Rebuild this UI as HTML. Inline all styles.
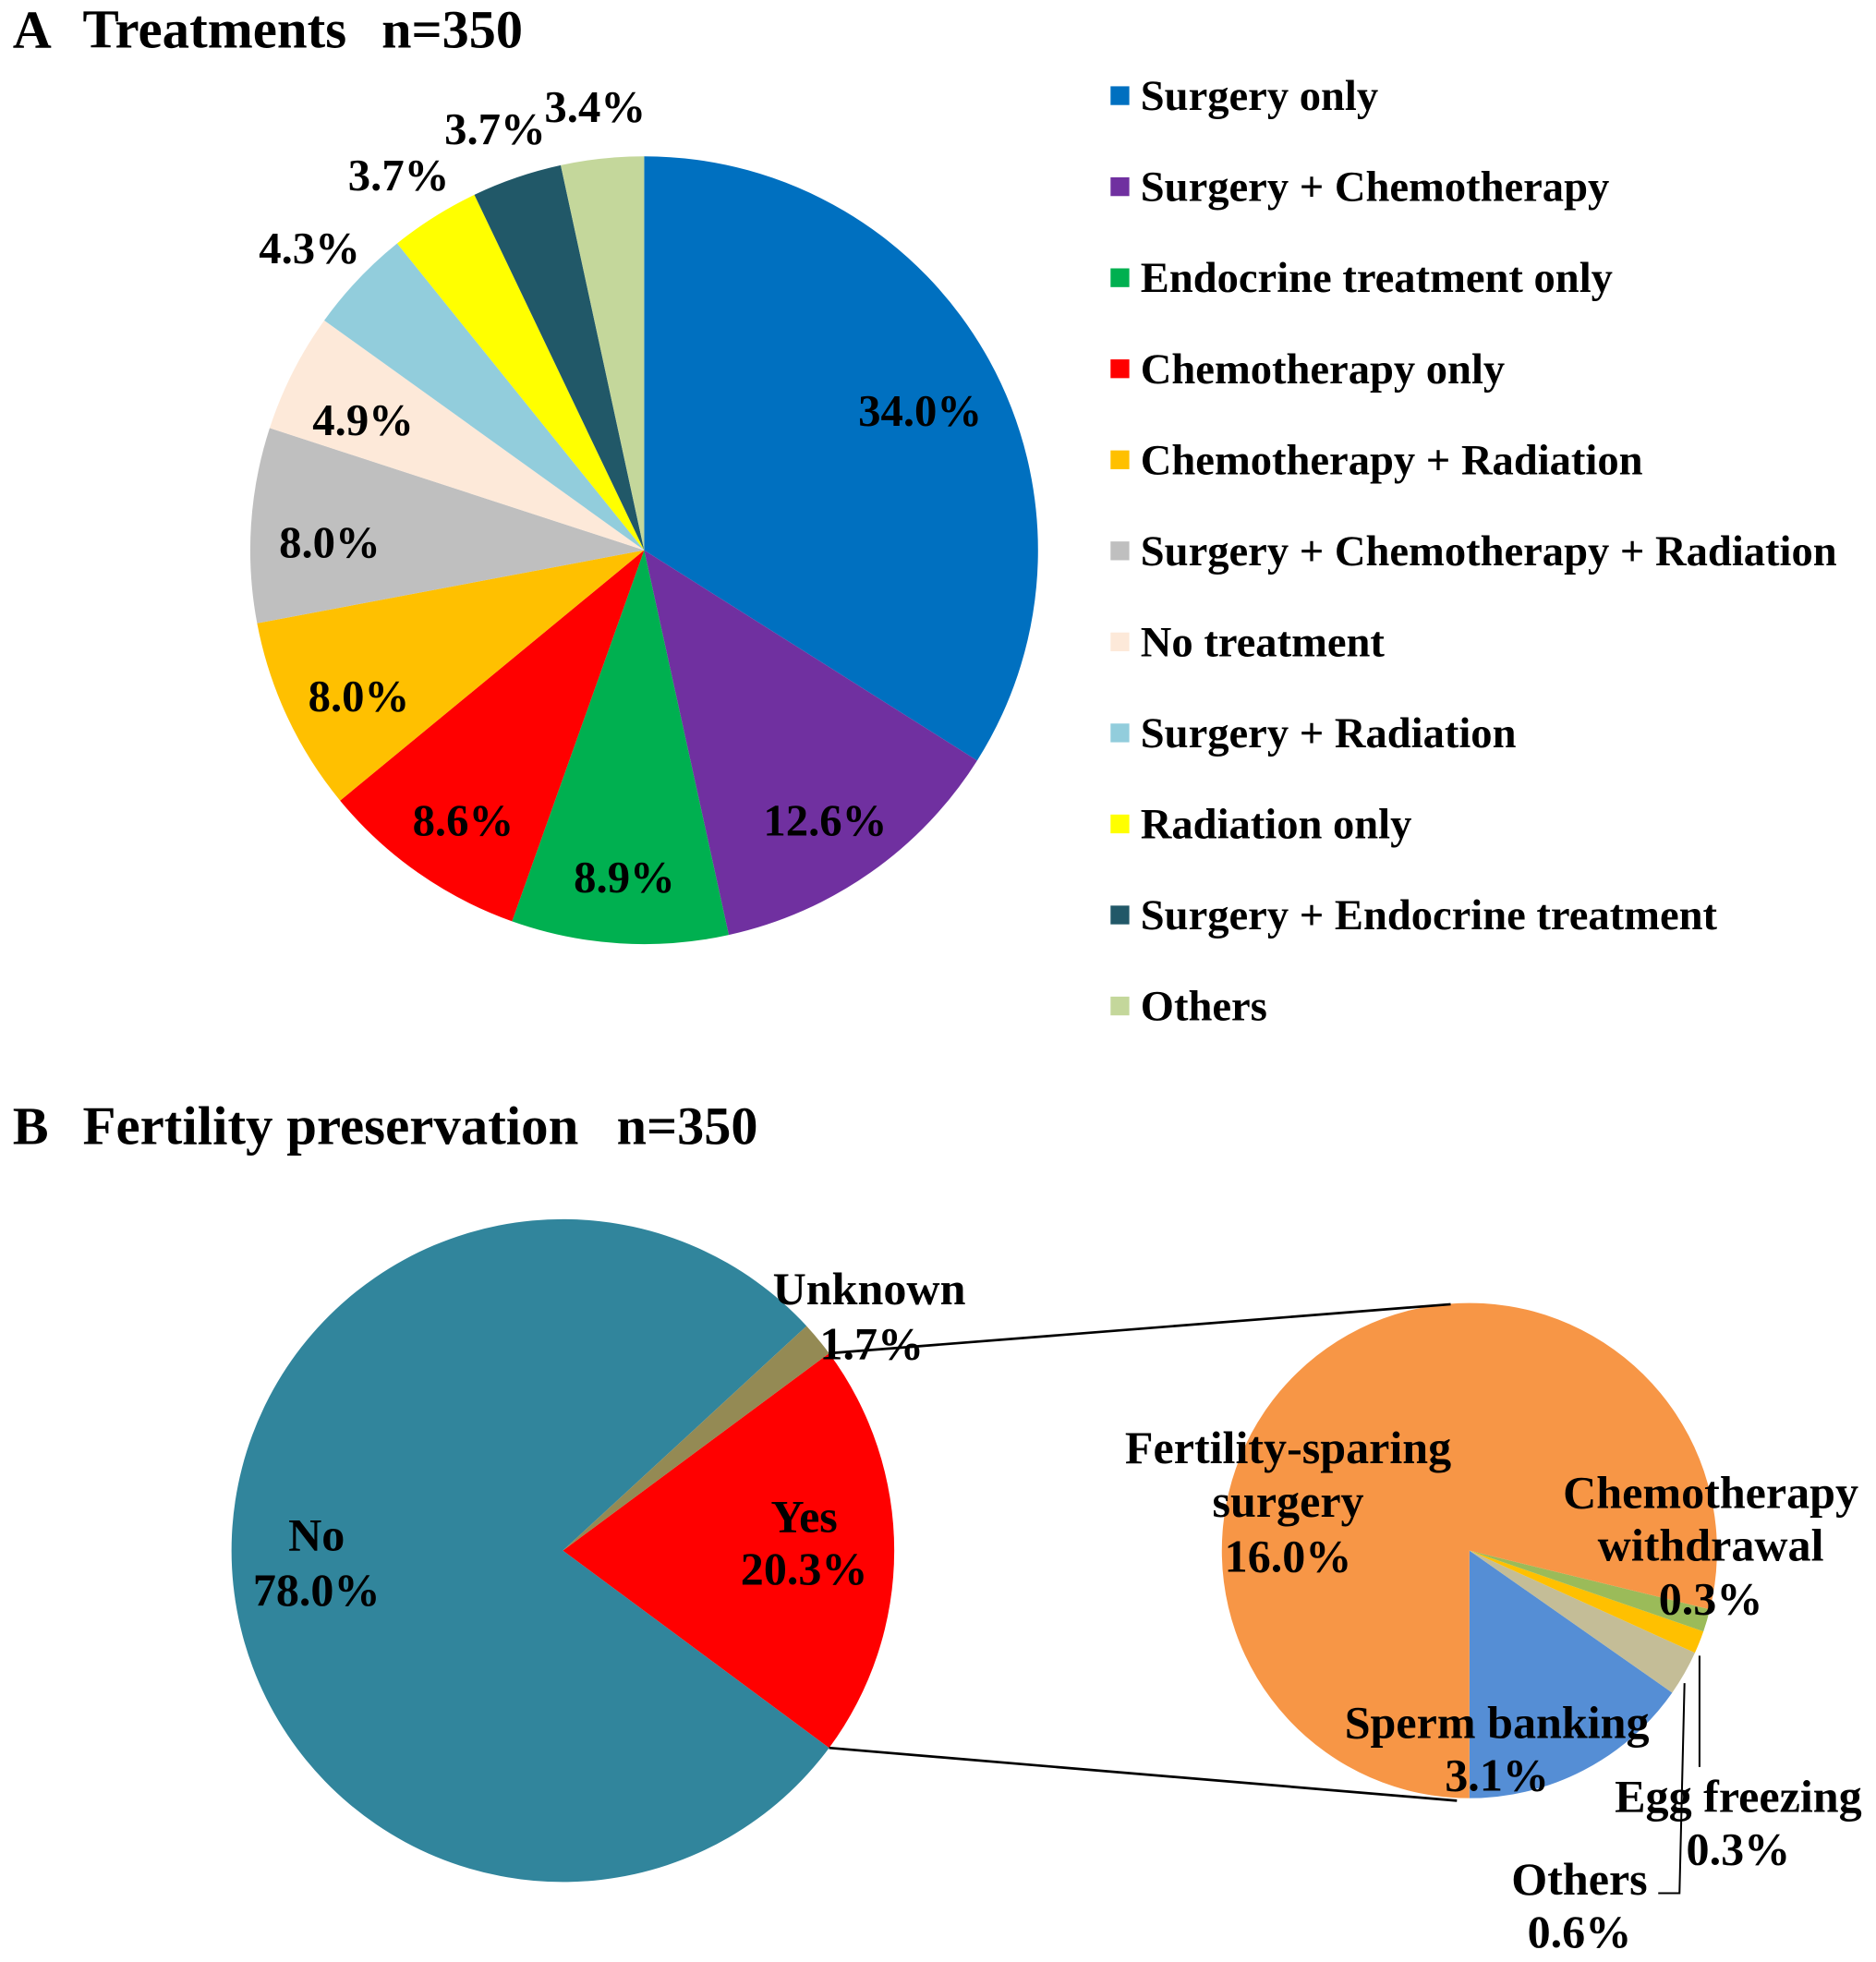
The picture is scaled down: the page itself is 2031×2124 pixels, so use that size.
<!DOCTYPE html>
<html><head><meta charset="utf-8"><style>
html,body{margin:0;padding:0;background:#fff}
svg{display:block}
text{font-family:"Liberation Serif",serif;font-weight:bold;fill:#000}
</style></head><body>
<svg id="fig" width="2031" height="2124" viewBox="0 0 1500 1569" xmlns="http://www.w3.org/2000/svg">
<text x="10" y="38" font-size="43">A</text>
<text x="66" y="38" font-size="43.5">Treatments</text>
<text x="305" y="38" font-size="43">n=350</text>
<text x="10" y="915" font-size="43">B</text>
<text x="66" y="915" font-size="43.5">Fertility preservation</text>
<text x="493" y="915" font-size="43">n=350</text>
<g id="pieA"></g>
<g id="legendA"></g>
<g id="pieB"></g>
<g id="pieB2"></g>
<g id="labelsB"></g>
</svg>
<script>
const treatCategories = ["Surgery only","Surgery + Chemotherapy","Endocrine treatment only","Chemotherapy only","Chemotherapy + Radiation","Surgery + Chemotherapy + Radiation","No treatment","Surgery + Radiation","Radiation only","Surgery + Endocrine treatment","Others"];
const treatValues = [34.0,12.6,8.9,8.6,8.0,8.0,4.9,4.3,3.7,3.7,3.4];
const treatColors = ["#0070C0","#7030A0","#00B050","#FF0000","#FFC000","#BFBFBF","#FDE9D9","#92CDDC","#FFFF00","#215868","#C4D79B"];
const fpCategories = ["Yes","No","Unknown"];
const fpValues = [20.3,78.0,1.7];
const fpColors = ["#FF0000","#31859C","#948A54"];
const yesCategories = ["Sperm banking","Others","Egg freezing","Chemotherapy withdrawal","Fertility-sparing surgery"];
const yesValues = [3.1,0.6,0.3,0.3,16.0];
const yesColors = ["#558ED5","#C4BD97","#FFC000","#9BBB59","#F79646"];

const NS="http://www.w3.org/2000/svg";
function mk(tag,attrs,parent){const e=document.createElementNS(NS,tag);for(const k in attrs)e.setAttribute(k,attrs[k]);parent.appendChild(e);return e;}
function pt(cx,cy,r,a){const t=a*Math.PI/180;return [cx+r*Math.cos(t),cy+r*Math.sin(t)];}
function wedge(cx,cy,r,a0,a1){
  const p0=pt(cx,cy,r,a0),p1=pt(cx,cy,r,a1);const large=(a1-a0)>180?1:0;
  return `M${cx},${cy}L${p0[0]},${p0[1]}A${r},${r} 0 ${large} 1 ${p1[0]},${p1[1]}Z`;
}
function fmt(v){return v.toFixed(1)+"%";}

(function(){
  const g=document.getElementById('pieA');
  const cx=515,cy=440,r=315;
  const total=treatValues.reduce((a,b)=>a+b,0);
  let cum=0;
  treatValues.forEach((v,i)=>{
    const a0=-90+cum/total*360; cum+=v; const a1=-90+cum/total*360;
    const p=mk('path',{d:wedge(cx,cy,r,a0,a1),fill:treatColors[i]},g);
    
    
    const mid=(a0+a1)/2; const out=v<4.6; const rf=out?1.17:0.8;
    const lp=pt(cx,cy,r*rf,mid);
    const t=mk('text',{x:lp[0],y:lp[1]+(out?24:22),'font-size':36,'text-anchor':'middle'},g);
    t.textContent=fmt(v);
    
    
  });
  const lg=document.getElementById('legendA');
  treatCategories.forEach((c,i)=>{
    const y=88+i*72.8;
    const s=mk('rect',{x:888,y:y-19,width:15,height:15,fill:treatColors[i]},lg);
    
    
    const t=mk('text',{x:912,y:y,'font-size':34.4},lg);
    t.textContent=c;
    
    
  });
})();

(function(){
  const g=document.getElementById('pieB');
  const cx=450,cy=1240,r=265;
  const total=fpValues.reduce((a,b)=>a+b,0);
  let a=-fpValues[0]/total*180;
  fpValues.forEach((v,i)=>{
    const a0=a; a+=v/total*360; const a1=a;
    const p=mk('path',{d:wedge(cx,cy,r,a0,a1),fill:fpColors[i]},g);
    
    
  });
  const g2=document.getElementById('pieB2');
  const cx2=1175,cy2=1240,r2=198;
  const tot2=yesValues.reduce((x,y)=>x+y,0);
  let b=90;
  yesValues.forEach((v,i)=>{
    const a1=b; b-=v/tot2*360; const a0=b;
    const p=mk('path',{d:wedge(cx2,cy2,r2,a0,a1),fill:yesColors[i]},g2);
    
    
  });
  const y0=-fpValues[0]/total*180, y1=fpValues[0]/total*180;
  const pu=pt(cx,cy,r,y0), pd=pt(cx,cy,r,y1);
  const l1=mk('line',{x1:pu[0],y1:pu[1],x2:1160,y2:1043,stroke:'#000','stroke-width':2},g2);
  
  
  const l2=mk('line',{x1:pd[0],y1:pd[1],x2:1165,y2:1440,stroke:'#000','stroke-width':2},g2);
  
  
  const l3=mk('polyline',{points:'1359,1324 1359,1413',fill:'none',stroke:'#000','stroke-width':1.5},g2);
  
  
  const l4=mk('polyline',{points:'1347,1346 1343,1514 1326,1514',fill:'none',stroke:'#000','stroke-width':1.5},g2);
  
  
})();

(function(){
  const g=document.getElementById('labelsB');
  const items=[
    ["Unknown",695,1043],[fmt(fpValues[2]),697,1087],
    ["No",253,1240],[fmt(fpValues[1]),253,1284],
    ["Yes",643,1225],[fmt(fpValues[0]),643,1267],
    ["Fertility-sparing",1030,1170],["surgery",1030,1213],[fmt(yesValues[4]),1030,1257],
    ["Chemotherapy",1368,1206],["withdrawal",1368,1248],[fmt(yesValues[3]),1368,1291],
    ["Sperm banking",1197,1390],[fmt(yesValues[0]),1197,1432],
    ["Egg freezing",1390,1449],[fmt(yesValues[2]),1390,1491],
    ["Others",1263,1515],[fmt(yesValues[1]),1263,1557]
  ];
  items.forEach(it=>{
    const t=mk('text',{x:it[1],y:it[2],'font-size':37,'text-anchor':'middle'},g);
    t.textContent=it[0];
    
    
  });
})();
</script>
</body></html>
